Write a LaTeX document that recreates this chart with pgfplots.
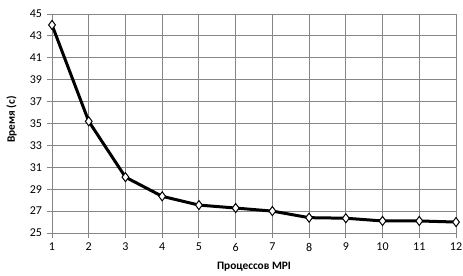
\documentclass[border=0pt]{standalone}
\usepackage{pgfplots}
\pgfplotsset{compat=1.18}
\usepackage{fontspec}
\setmainfont{Carlito}
\definecolor{gridc}{RGB}{134,134,134}
\begin{document}
\begin{tikzpicture}
\useasboundingbox (0pt,0pt) rectangle (347.25pt,206.25pt);
\begin{axis}[
  at={(39pt,31.5pt)}, anchor=south west,
  scale only axis, width=303pt, height=164.25pt,
  xmin=1, xmax=12, ymin=25, ymax=45,
  xtick={1,...,12}, ytick={25,27,...,45},
  grid=major, grid style={gridc, line width=0.75pt},
  axis lines*=left, axis line style={gridc, line width=0.75pt},
  tick style={gridc, line width=0.75pt},
  tick align=outside, major tick length=4pt,
  every tick label/.append style={font=\fontsize{9}{10}\selectfont, text=black},
  /pgf/number format/assume math mode=true,
  xlabel={\textbf{Процессов MPI}},
  ylabel={\textbf{Время (с)}},
  label style={font=\fontsize{8.5}{10}\selectfont},
  xlabel style={at={(0.5,0)}, anchor=north, yshift=-18pt},
  ylabel style={at={(0,0.5)}, anchor=south, yshift=23pt, xshift=3pt},
  clip=false,
]
\addplot[black, line width=2.25pt, mark=diamond*, mark options={fill=white, draw=black, line width=0.75pt}, mark size=3.4pt]
coordinates {(1,44.0)(2,35.2)(3,30.1)(4,28.35)(5,27.55)(6,27.28)(7,27.0)(8,26.4)(9,26.35)(10,26.1)(11,26.1)(12,26.0)};
\end{axis}
\end{tikzpicture}
\end{document}
